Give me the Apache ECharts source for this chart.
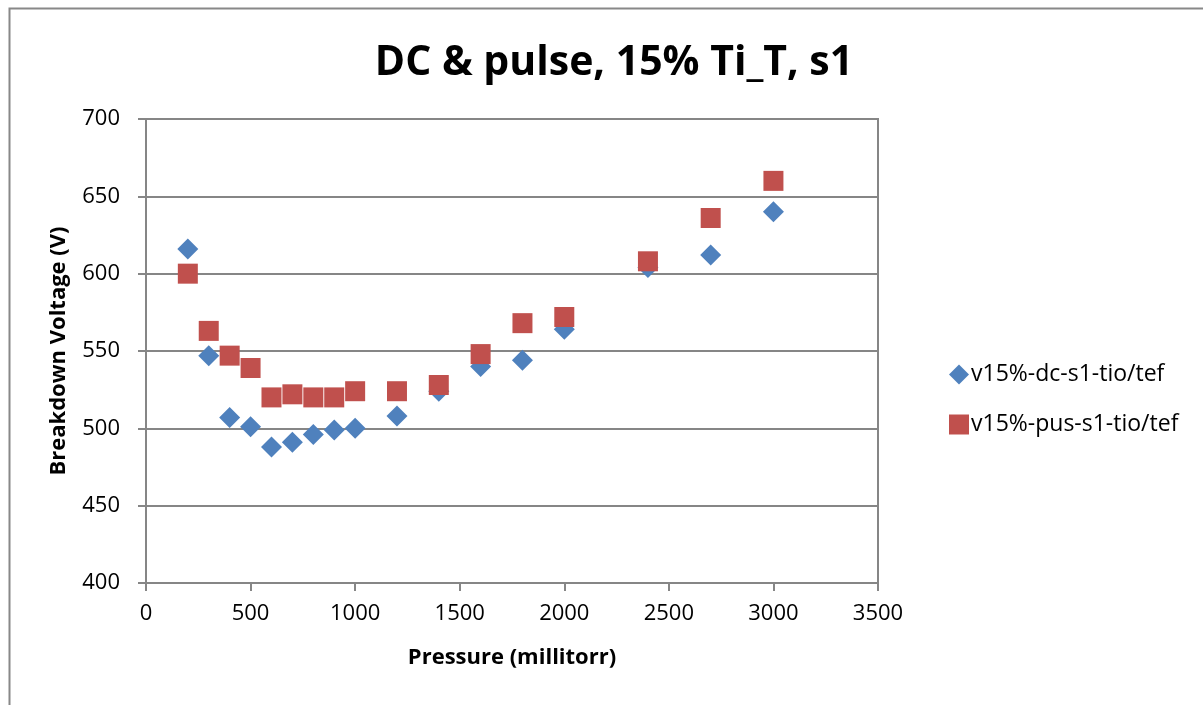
<!DOCTYPE html>
<html>
<head>
<meta charset="utf-8">
<script src="https://cdn.jsdelivr.net/npm/echarts@6/dist/echarts.min.js"></script>
<style>html,body{margin:0;padding:0;background:#fff;}#c{width:1203px;height:705px;}</style>
</head>
<body>
<div id="c"></div>
<script>
const pressure = [200, 300, 400, 500, 600, 700, 800, 900, 1000, 1200, 1400, 1600, 1800, 2000, 2400, 2700, 3000];
const dcVoltage = [616, 547, 507, 501, 488, 491, 496, 499, 500, 508, 524, 540, 544, 564, 604, 612, 640];
const pulseVoltage = [600, 563, 547, 539, 520, 522, 520, 520, 524, 524, 528, 548, 568, 572, 608, 636, 660];
const seriesNames = ['v15%-dc-s1-tio/tef', 'v15%-pus-s1-tio/tef'];
const titleText = 'DC & pulse, 15% Ti_T, s1';
const xAxisName = 'Pressure (millitorr)';
const yAxisName = 'Breakdown Voltage (V)';

const toPairs = (xs, ys) => xs.map((x, i) => [x, ys[i]]);
const F = "'Open Sans', sans-serif";
const gridColor = '#868686';

const chart = echarts.init(document.getElementById('c'), null, {renderer: 'canvas'});
chart.setOption({
  animation: false,
  backgroundColor: '#fff',
  title: {
    text: titleText,
    left: 609, top: 38, textAlign: 'center',
    textStyle: {fontFamily: F, fontWeight: 'bold', fontSize: 41, color: '#000'}
  },
  graphic: [{
    type: 'rect', left: 7, top: 6,
    shape: {width: 1300, height: 800},
    style: {fill: 'none', stroke: '#888', lineWidth: 2},
    silent: true
  }],
  legend: {
    orient: 'vertical', left: 944, top: 358,
    itemWidth: 20, itemHeight: 20, itemGap: 27,
    textStyle: {fontFamily: F, fontSize: 23, color: '#000', padding: [0, 0, 0, -3]},
    data: seriesNames
  },
  grid: {left: 146, right: 325, top: 119, bottom: 122, show: true, borderColor: gridColor, borderWidth: 2, backgroundColor: 'transparent'},
  xAxis: {
    type: 'value', min: 0, max: 3500, interval: 500,
    name: xAxisName, nameLocation: 'middle', nameGap: 64,
    nameTextStyle: {fontFamily: F, fontWeight: 'bold', fontSize: 22, color: '#000'},
    axisLine: {show: true, lineStyle: {color: gridColor, width: 2}},
    axisTick: {show: true, length: 8, lineStyle: {color: gridColor, width: 2}},
    axisLabel: {fontFamily: F, fontSize: 22, color: '#000', margin: 20, formatter: v => String(v)},
    splitLine: {show: false}
  },
  yAxis: {
    type: 'value', min: 400, max: 700, interval: 50,
    name: yAxisName, nameLocation: 'middle', nameGap: 76,
    nameTextStyle: {fontFamily: F, fontWeight: 'bold', fontSize: 22, color: '#000'},
    axisLine: {show: true, lineStyle: {color: gridColor, width: 2}},
    axisTick: {show: true, length: 8, lineStyle: {color: gridColor, width: 2}},
    axisLabel: {fontFamily: F, fontSize: 22, color: '#000', margin: 26, formatter: v => String(v)},
    splitLine: {show: true, lineStyle: {color: gridColor, width: 2}}
  },
  series: [
    {
      name: seriesNames[0], type: 'scatter', symbol: 'diamond', symbolSize: 21,
      itemStyle: {color: '#4F81BD', opacity: 1},
      data: toPairs(pressure, dcVoltage)
    },
    {
      name: seriesNames[1], type: 'scatter', symbol: 'rect', symbolSize: 20,
      itemStyle: {color: '#C0504D', opacity: 1},
      data: toPairs(pressure, pulseVoltage)
    }
  ]
});
</script>
</body>
</html>
